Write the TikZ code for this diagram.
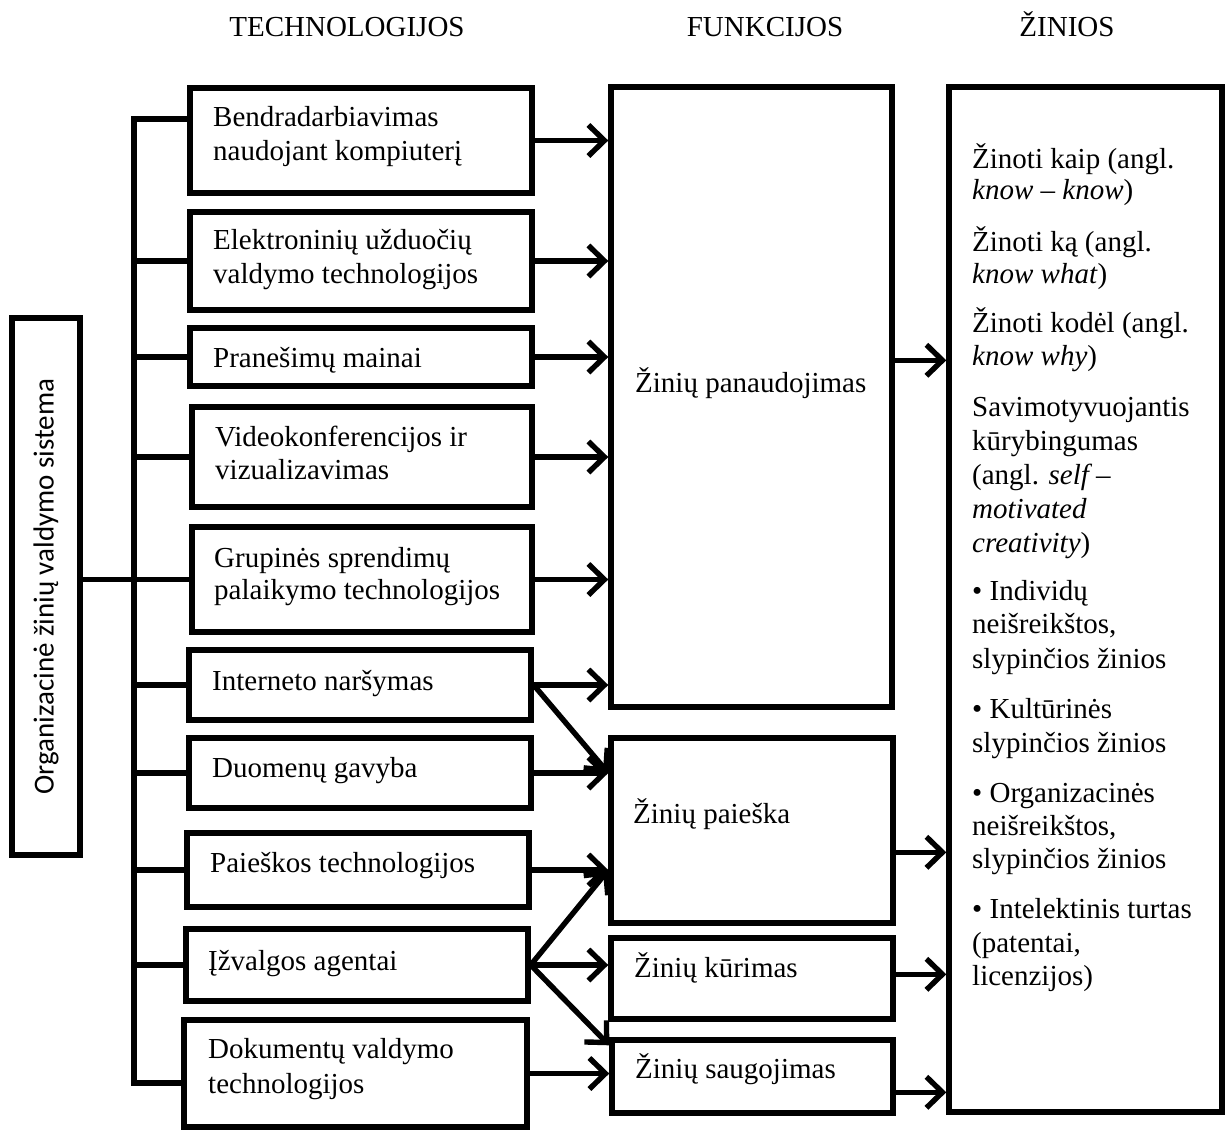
\documentclass[tikz,border=0pt]{standalone}
\usepackage{fontspec}
\setmainfont{Liberation Serif}
\newfontfamily\orgsans{Carlito}
\usetikzlibrary{arrows.meta,calc,fit}

\tikzset{
  box/.style={draw, line width=5.4pt, fill=white, inner sep=0pt},
  ln/.style={line width=5.4pt},
  arr/.style={line width=5.4pt, -{Straight Barb[length=16pt,width=31pt]}},
  txt/.style={font=\fontsize{29pt}{34pt}\selectfont, anchor=base west, inner sep=0pt},
  head/.style={font=\fontsize{29pt}{34pt}\selectfont, anchor=base, inner sep=0pt}
}

\begin{document}
\begin{tikzpicture}[x=1pt, y=-1pt]
\fill[white] (0,0) rectangle (1225,1130);
\useasboundingbox (0,0) rectangle (1225,1130);

% column headings
\node[head] (h1) at (347,36) {TECHNOLOGIJOS};
\node[head] (h2) at (765,36) {FUNKCIJOS};
\node[head] (h3) at (1067,36) {ŽINIOS};

% system box on the left
\node[box, fit={(12,318) (80,855)}] (org) {};
\node[rotate=90, inner sep=0pt, font=\orgsans\fontsize{29pt}{34pt}\selectfont] (orgt) at (org.center) {Organizacinė žinių valdymo sistema};

% technology boxes
\node[box, fit={(190,88) (532,193)}] (t1) {};
\node[box, fit={(190,212) (532,310)}] (t2) {};
\node[box, fit={(190,328) (532,386)}] (t3) {};
\node[box, fit={(192,407) (532,507)}] (t4) {};
\node[box, fit={(192,527) (532,632)}] (t5) {};
\node[box, fit={(189,650) (531,720)}] (t6) {};
\node[box, fit={(189,738) (531,808)}] (t7) {};
\node[box, fit={(187,833) (529,907)}] (t8) {};
\node[box, fit={(186,929) (528,1001)}] (t9) {};
\node[box, fit={(184,1020) (527,1127)}] (t10) {};

\node[txt] (t1a) at (213,126) {Bendradarbiavimas};
\node[txt] (t1b) at (213,160) {naudojant kompiuterį};
\node[txt] (t2a) at (213,249) {Elektroninių užduočių};
\node[txt] (t2b) at (213,283) {valdymo technologijos};
\node[txt] (t3a) at (213,367) {Pranešimų mainai};
\node[txt] (t4a) at (215,446) {Videokonferencijos ir};
\node[txt] (t4b) at (215,479) {vizualizavimas};
\node[txt] (t5a) at (214,567) {Grupinės sprendimų};
\node[txt] (t5b) at (214,599) {palaikymo technologijos};
\node[txt] (t6a) at (212,690) {Interneto naršymas};
\node[txt] (t7a) at (212,777) {Duomenų gavyba};
\node[txt] (t8a) at (210,872) {Paieškos technologijos};
\node[txt] (t9a) at (208,970) {Įžvalgos agentai};
\node[txt] (t10a) at (208,1058) {Dokumentų valdymo};
\node[txt] (t10b) at (208,1093) {technologijos};

% function boxes
\node[box, fit={(611,87) (892,707)}] (f1) {};
\node[box, fit={(611,738) (893,923)}] (f2) {};
\node[box, fit={(611,938) (893,1019)}] (f3) {};
\node[box, fit={(612,1040) (893,1113)}] (f4) {};

\node[txt] (f1t) at (635,392) {Žinių panaudojimas};
\node[txt] (f2t) at (633,823) {Žinių paieška};
\node[txt] (f3t) at (634,977) {Žinių kūrimas};
\node[txt] (f4t) at (635,1078) {Žinių saugojimas};

% knowledge box
\node[box, fit={(949,87) (1222,1112)}] (kn) {};
\foreach \n/\yy/\t in {
  1/168/{Žinoti kaip (angl.},
  2/199/{\textit{know – know})},
  3/251/{Žinoti ką (angl.},
  4/283/{\textit{know what})},
  5/332/{Žinoti kodėl (angl.},
  6/365/{\textit{know why})},
  7/416/{Savimotyvuojantis},
  8/450/{kūrybingumas},
  9/484/{(angl. \textit{self –}},
  10/518/{\textit{motivated}},
  11/552/{\textit{creativity})},
  12/600/{• Individų},
  13/633/{neišreikštos,},
  14/668/{slypinčios žinios},
  15/718/{• Kultūrinės},
  16/752/{slypinčios žinios},
  17/802/{• Organizacinės},
  18/835/{neišreikštos,},
  19/868/{slypinčios žinios},
  20/918/{• Intelektinis turtas},
  21/952/{(patentai,},
  22/985/{licenzijos)}}
  \node[txt] (kn\n) at (972,\yy) {\t};

% trunk joining the system box to every technology
\coordinate (jt) at (134,119);
\coordinate (jb) at (134,1083);
\draw[ln, line cap=rect] (jt) -- (jb);
\draw[ln] (jt) -- (jt -| t1.west);
\draw[ln] (jb) -- (jb -| t10.west);
\foreach \k in {2,3,4,6,7,8,9}
  \draw[ln] (t\k.west -| jt) -- (t\k.west);
\draw[ln] (org.east |- t5.west) -- (t5.west);

% technologies to functions
\foreach \k in {1,2,3,4,5,6}
  \draw[arr] (t\k.east) -- (t\k.east -| f1.west);
\draw[arr] (t7.east) -- (t7.east -| f2.west);
\draw[arr] (t6.east) -- (t7.east -| f2.west);
\draw[arr] (t8.east) -- (t8.east -| f2.west);
\draw[arr] (t9.east) -- (t8.east -| f2.west);
\draw[arr] (t9.east) -- (t9.east -| f3.west);
\coordinate (s4) at ($(f4.north west)+(0,8)$);
\draw[arr] (t9.east) -- (s4);
\draw[arr] (t10.east) -- (t10.east -| f4.west);

% functions to knowledge
\coordinate (k1) at ($(f1.north east)+(0,276)$);
\coordinate (k2) at ($(f2.north east)+(0,117)$);
\coordinate (k3) at ($(f3.north east)+(0,39)$);
\coordinate (k4) at ($(f4.north east)+(0,55)$);
\foreach \k in {1,2,3,4}
  \draw[arr] (k\k) -- (k\k -| kn.west);
\end{tikzpicture}
\end{document}
